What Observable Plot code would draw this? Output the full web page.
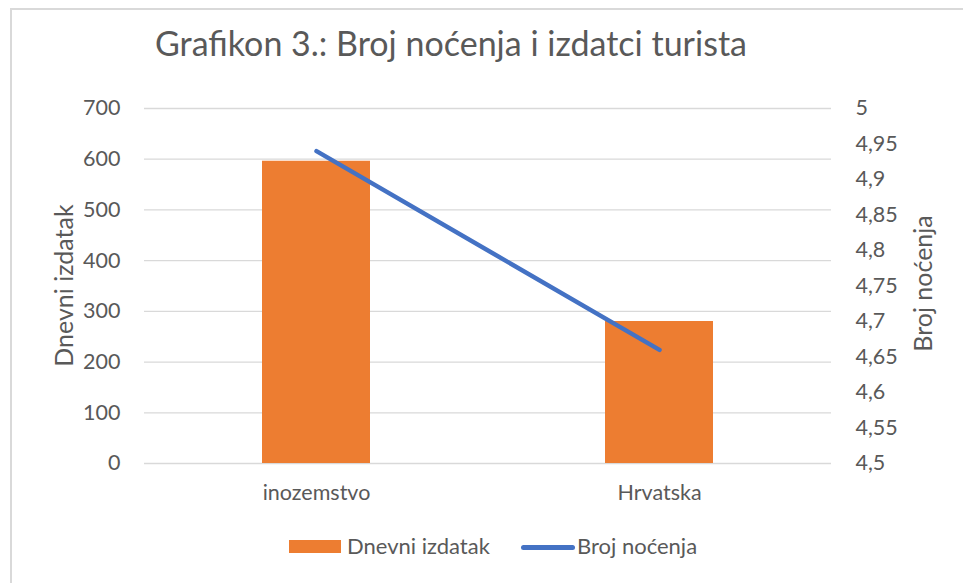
<!DOCTYPE html>
<html><head><meta charset="utf-8">
<script src="https://cdn.jsdelivr.net/npm/d3@7"></script>
<script src="https://cdn.jsdelivr.net/npm/@observablehq/plot@0.6"></script>
<style>
body{margin:0;background:#fff;}
#wrap{position:relative;width:963px;height:583px;overflow:hidden;font-family:Lato,sans-serif;color:#595959;background:#fff;}
#border{position:absolute;left:10px;top:8px;width:1200px;height:1200px;border-left:2px solid #d9d9d9;border-top:2px solid #d9d9d9;}
#chart{position:absolute;left:0;top:0;}
.t{position:absolute;white-space:nowrap;line-height:1;}
#title{left:155px;top:26px;font-size:34px;transform-origin:left center;}
.ytitle{font-size:25px;transform-origin:center center;}
#legend .sw{position:absolute;}
</style></head>
<body>
<div id="wrap">
  <div id="border"></div>
  <div id="chart"></div>
  <div class="t" id="title">Grafikon 3.: Broj noćenja i izdatci turista</div>
  <div class="t ytitle" id="ylTitle">Dnevni izdatak</div>
  <div class="t ytitle" id="yrTitle">Broj noćenja</div>
  <div id="legend">
    <div class="sw" style="left:289px;top:540px;width:52px;height:13px;background:#ED7D31"></div>
    <div class="t" id="lg1" style="left:347px;top:535px;font-size:22px;">Dnevni izdatak</div>
    <div class="sw" style="left:521px;top:544.5px;width:54px;height:5px;border-radius:3px;background:#4472C4"></div>
    <div class="t" id="lg2" style="left:577px;top:535px;font-size:22px;">Broj noćenja</div>
  </div>
</div>
<script>
const categories = ["inozemstvo", "Hrvatska"];
const dnevniIzdatak = [596, 280];
const brojNocenja = [4.94, 4.66];
const leftTicks = [0, 100, 200, 300, 400, 500, 600, 700];
const rightTicks = [4.5, 4.55, 4.6, 4.65, 4.7, 4.75, 4.8, 4.85, 4.9, 4.95, 5];

const data = categories.map((c, i) => ({cat: c, izd: dnevniIzdatak[i], noc: brojNocenja[i]}));
// secondary axis mapping: right domain [4.5, 5] onto the left domain [0, 700]
const r2l = d3.scaleLinear([4.5, 5], [0, 700]);
const fmt = v => String(v).replace(".", ",");

const chart = Plot.plot({
  width: 963, height: 583,
  marginLeft: 144, marginRight: 132, marginTop: 108, marginBottom: 120,
  x: {domain: categories, paddingInner: 0.686, paddingOuter: 0.343, axis: null, label: null},
  y: {domain: [0, 700], axis: null, label: null},
  style: {fontFamily: "Lato, sans-serif", fontSize: "21.5px", color: "#595959", background: "transparent"},
  marks: [
    Plot.ruleY(leftTicks, {stroke: "#d9d9d9", strokeWidth: 1.3}),
    Plot.barY(data, {x: "cat", y: "izd", fill: "#ED7D31"}),
    Plot.line(data, {x: "cat", y: d => r2l(d.noc), stroke: "#4472C4", strokeWidth: 4.5, strokeLinecap: "round"}),
    Plot.axisY(leftTicks, {anchor: "left", tickSize: 0, tickPadding: 24, label: null, fontSize: 21.5}),
    Plot.text(rightTicks, {y: d => r2l(d), text: fmt, frameAnchor: "right", textAnchor: "start", dx: 24, fill: "#595959", fontSize: 21.5}),
    Plot.axisX({tickSize: 0, tickPadding: 21, label: null, fontSize: 21.5})
  ]
});
document.getElementById("chart").appendChild(chart);

function fitWidth(el, w) {
  const r = el.getBoundingClientRect();
  el.style.transform = `scaleX(${w / r.width})`;
}
fitWidth(document.getElementById("title"), 592);

function placeRot(el, cx, cy) {
  const r = el.getBoundingClientRect();
  el.style.left = (cx - r.width / 2) + "px";
  el.style.top = (cy - r.height / 2) + "px";
  el.style.transform = "rotate(-90deg)";
}
placeRot(document.getElementById("ylTitle"), 63, 285);
placeRot(document.getElementById("yrTitle"), 922, 283);
</script>
</body></html>
